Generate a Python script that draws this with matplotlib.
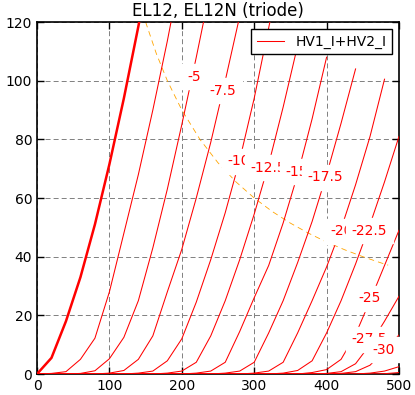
import matplotlib
matplotlib.use("Agg")
import matplotlib.pyplot as plt

plt.rcParams["lines.scale_dashes"] = False

# plate voltage steps (V)
va = [0, 20, 40, 60, 80, 100, 120, 140, 160, 180, 200, 220, 240,
      260, 280, 300, 320, 340, 360, 380, 400, 420, 440, 460, 480, 500]

# plate current (mA) per grid voltage
ia_0 = [0, 5.5, 18, 33, 51, 71.5, 94, 118.5, 145]
ia_2_5 = [0, 0.2, 0.8, 5, 12.2, 28, 48, 68, 90, 113.5, 139]
ia_5 = [0, 0, 0, 0.2, 1.1, 5.2, 12.5, 25, 43, 63, 85, 108, 132]
ia_7_5 = [0, 0, 0, 0, 0, 0.3, 1.2, 5, 13, 28, 42.5, 60, 79, 100, 122]
ia_10 = [0, 0, 0, 0, 0, 0, 0, 0.3, 1, 4.5, 12, 24.5, 39, 55, 73, 94, 118, 142]
ia_12_5 = [0, 0, 0, 0, 0, 0, 0, 0, 0, 0.3, 1, 4, 13, 25, 39, 54.5, 71.5, 91, 112]
ia_15 = [0, 0, 0, 0, 0, 0, 0, 0, 0, 0, 0, 0.3, 1, 4, 14.5, 26, 37, 51.5, 68, 87, 108]
ia_17_5 = [0, 0, 0, 0, 0, 0, 0, 0, 0, 0, 0, 0, 0, 0.3, 1, 4, 14, 25, 38, 52, 68,
           85.5, 104]
ia_20 = [0, 0, 0, 0, 0, 0, 0, 0, 0, 0, 0, 0, 0, 0, 0, 0.3, 1, 4, 14, 25, 36.5,
         49.5, 64.5, 81, 100.5]
ia_22_5 = [0, 0, 0, 0, 0, 0, 0, 0, 0, 0, 0, 0, 0, 0, 0, 0, 0, 0.3, 1.2, 4.5, 14,
           25, 37.5, 51, 65.5, 81]
ia_25 = [0, 0, 0, 0, 0, 0, 0, 0, 0, 0, 0, 0, 0, 0, 0, 0, 0, 0, 0, 0.5, 1.5, 5,
         13.5, 25, 37, 49]
ia_27_5 = [0, 0, 0, 0, 0, 0, 0, 0, 0, 0, 0, 0, 0, 0, 0, 0, 0, 0, 0, 0, 0.2, 0.8,
           3.5, 10, 18, 26.5]
ia_30 = [0, 0, 0, 0, 0, 0, 0, 0, 0, 0, 0, 0, 0, 0, 0, 0, 0, 0, 0, 0, 0, 0.2, 0.8,
         3, 8, 13.3]
ia_32_5 = [0, 0, 0, 0, 0, 0, 0, 0, 0, 0, 0, 0, 0, 0, 0, 0, 0, 0, 0, 0, 0, 0, 0,
           0.3, 1, 2.5]
ia_35 = [0, 0, 0, 0, 0, 0, 0, 0, 0, 0, 0, 0, 0, 0, 0, 0, 0, 0, 0, 0, 0, 0, 0, 0,
         0.1, 0.5]

curves = [ia_0, ia_2_5, ia_5, ia_7_5, ia_10, ia_12_5, ia_15, ia_17_5, ia_20,
          ia_22_5, ia_25, ia_27_5, ia_30, ia_32_5, ia_35]

# max plate dissipation (18 W)
pd_v = [150, 165, 180, 200, 225, 250, 275, 300, 325, 350, 375, 400, 425, 450,
        475, 485]
pd_i = [120, 109.1, 100, 90, 80, 72, 65.45, 60, 55.38, 51.43, 48, 45, 42.35,
        40, 37.89, 37.11]

# curve labels
lab_txt = ["-5", "-7.5", "-10", "-12.5", "-15", "-17.5", "-20", "-22.5",
           "-25", "-27.5", "-30"]
lab_v = [216.6, 257, 279, 319, 358.6, 398, 420, 459, 459.7, 459, 479]
lab_i = [101.4, 96.5, 72.5, 70.3, 68.9, 67, 48.6, 48.8, 25.8, 11.9, 8.35]

fig = plt.figure(figsize=(4.15, 3.95), dpi=100)
ax = fig.add_axes([37 / 415, 21 / 395, 362 / 415, 352 / 395])

for n, ia in enumerate(curves):
    lw = 1.8 if n == 0 else 0.75
    lbl = "HV1_I+HV2_I" if n == 1 else None
    ax.plot(va[:len(ia)], ia, color="red", lw=lw, label=lbl, zorder=3)

ax.plot(pd_v, pd_i, color="orange", lw=0.6, ls=(0, (4, 3)), zorder=2)

for k, t in enumerate(lab_txt):
    ax.text(lab_v[k], lab_i[k], t, color="red", fontsize=10, ha="center",
            va="center", zorder=5 + k,
            bbox=dict(facecolor="white", edgecolor="white"))

ax.set_xlim(0, 500)
ax.set_ylim(0, 120)
ax.set_xticks([0, 100, 200, 300, 400, 500])
ax.set_yticks([0, 20, 40, 60, 80, 100, 120])
ax.grid(True, color="0.5", lw=0.7, ls=(0, (3.6, 2.2)))
ax.set_axisbelow(True)
ax.tick_params(direction="in", top=True, right=True, length=5, width=1,
               labelsize=10)
for s in ax.spines.values():
    s.set_linewidth(1.2)
ax.set_title("EL12, EL12N (triode)", fontsize=12, pad=4)

leg = ax.legend(loc="upper right", fancybox=False, edgecolor="black",
                framealpha=1, fontsize=10, handlelength=2.0)
leg.get_frame().set_linewidth(1.0)
leg.set_zorder(20)

fig.savefig("out.png", dpi=100)
